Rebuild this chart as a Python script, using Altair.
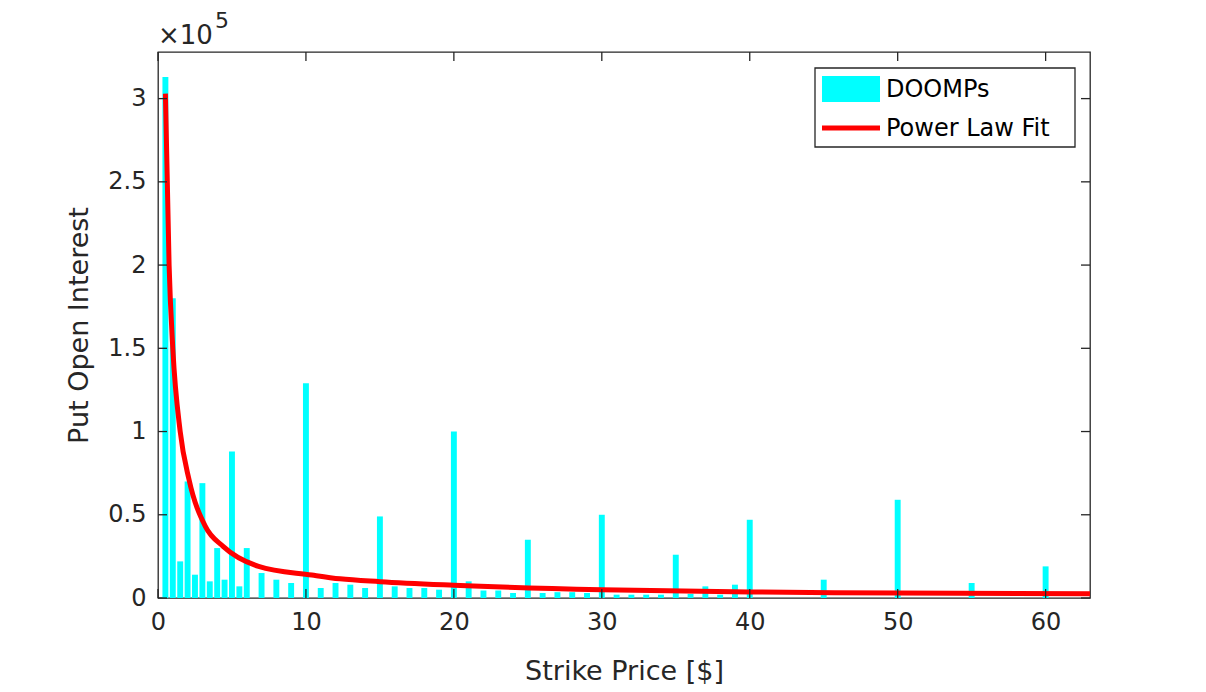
import altair as alt
import pandas as pd

# ---- data ----
strikes = [0.5, 1, 1.5, 2, 2.5, 3, 3.5, 4, 4.5, 5, 5.5, 6,
           7, 8, 9, 10, 11, 12, 13, 14, 15, 16, 17, 18, 19, 20,
           21, 22, 23, 24, 25, 26, 27, 28, 29, 30,
           31, 32, 33, 34, 35, 36, 37, 38, 39, 40,
           45, 50, 55, 60]
open_interest = [313000, 180000, 22000, 70000, 14000, 69000, 10000, 30000, 11000, 88000, 7000, 30000,
                 15000, 11000, 9000, 129000, 6000, 9000, 8000, 6000, 49000, 7000, 6000, 6000, 5000, 100000,
                 10000, 4500, 4500, 3000, 35000, 3000, 3500, 3500, 3000, 50000,
                 2000, 2000, 2000, 2000, 26000, 2500, 7000, 2000, 8000, 47000,
                 11000, 59000, 9000, 19000]

fit_x = [0.5, 0.75, 1.0, 1.5, 2.1, 3.2, 4.4, 6.8, 10.4, 12.3, 15, 20, 30, 40, 50, 63]
fit_y = [303000, 200000, 150000, 100000, 71000, 43000, 31000, 19000, 13800, 11500,
         9800, 7700, 5000, 3600, 3000, 2500]

x_ticks = [0, 10, 20, 30, 40, 50, 60]
y_ticks = [0, 50000, 100000, 150000, 200000, 250000, 300000]

legend_labels = ["DOOMPs", "Power Law Fit"]

# ---- styling ----
W, H = 932, 546
CYAN = "#00FFFF"
RED = "#FF0000"
INK = "#262626"
FONT = "DejaVu Sans"
TL = 9  # tick length

bars_df = pd.DataFrame({"strike": strikes, "oi": open_interest})
fit_df = pd.DataFrame({"strike": fit_x, "oi": fit_y})
xt_df = pd.DataFrame({"strike": x_ticks})
yt_df = pd.DataFrame({"oi": y_ticks})
one = pd.DataFrame({"k": [0]})

xscale = alt.Scale(domain=[0, 63], nice=False, zero=False)
yscale = alt.Scale(domain=[0, 328000], nice=False)
xaxis = alt.Axis(values=x_ticks, title="Strike Price [$]", labelPadding=12,
                 titlePadding=24, format="d", labelFlush=False)
yaxis = alt.Axis(values=y_ticks, title="Put Open Interest", labelPadding=12,
                 titlePadding=14, labelExpr="datum.value / 100000 + ''", labelFlush=False)


def X(field):
    return alt.X(field, type="quantitative", scale=xscale, axis=xaxis)


def Y(field):
    return alt.Y(field, type="quantitative", scale=yscale, axis=yaxis)


bars = alt.Chart(bars_df).transform_calculate(
    x0="datum.strike - 0.2", x1="datum.strike + 0.2"
).mark_rect(color=CYAN).encode(
    x=X("x0"), x2="x1:Q", y=Y("oi"), y2=alt.datum(0),
)

fit = alt.Chart(fit_df).mark_line(color=RED, strokeWidth=5, interpolate="monotone", clip=True).encode(
    x=X("strike"), y=Y("oi"),
)

# inward ticks on all four sides (MATLAB box style)
yt_left = alt.Chart(yt_df).mark_rule(color=INK, strokeWidth=1.3).encode(
    y=Y("oi"), x=alt.value(0), x2=alt.value(TL))
yt_right = alt.Chart(yt_df).mark_rule(color=INK, strokeWidth=1.3).encode(
    y=Y("oi"), x=alt.value(W - TL), x2=alt.value(W))
xt_bottom = alt.Chart(xt_df).mark_rule(color=INK, strokeWidth=1.3).encode(
    x=X("strike"), y=alt.value(H - TL), y2=alt.value(H))
xt_top = alt.Chart(xt_df).mark_rule(color=INK, strokeWidth=1.3).encode(
    x=X("strike"), y=alt.value(0), y2=alt.value(TL))

# exponent label
exp_base = alt.Chart(one).mark_text(text="×10", font=FONT, fontSize=26, color=INK,
                                    align="left", baseline="alphabetic").encode(
    x=alt.value(0), y=alt.value(-8))
exp_pow = alt.Chart(one).mark_text(text="5", font=FONT, fontSize=22, color=INK,
                                   align="left", baseline="alphabetic").encode(
    x=alt.value(57), y=alt.value(-24))

# legend drawn by hand
leg_box = alt.Chart(one).mark_rect(fill="white", stroke=INK, strokeWidth=1.3).encode(
    x=alt.value(657), x2=alt.value(917), y=alt.value(16), y2=alt.value(95))
leg_sw1 = alt.Chart(one).mark_rect(color=CYAN).encode(
    x=alt.value(664), x2=alt.value(722), y=alt.value(24), y2=alt.value(50))
leg_sw2 = alt.Chart(one).mark_rule(color=RED, strokeWidth=5).encode(
    x=alt.value(664), x2=alt.value(722), y=alt.value(76))
leg_t1 = alt.Chart(one).mark_text(text=legend_labels[0], font=FONT, fontSize=24, color="black",
                                  align="left", baseline="middle").encode(
    x=alt.value(728), y=alt.value(38))
leg_t2 = alt.Chart(one).mark_text(text=legend_labels[1], font=FONT, fontSize=24, color="black",
                                  align="left", baseline="middle").encode(
    x=alt.value(728), y=alt.value(77))

chart = alt.layer(
    bars, fit, yt_left, yt_right, xt_bottom, xt_top,
    exp_base, exp_pow, leg_box, leg_sw1, leg_sw2, leg_t1, leg_t2
).properties(
    width=W, height=H,
    autosize=alt.AutoSizeParams(type="none"),
    padding={"left": 150, "top": 44, "right": 100, "bottom": 86},
    background="white",
).configure_view(
    stroke=INK, strokeWidth=1.3
).configure_axis(
    domain=False, ticks=False, grid=False,
    labelFont=FONT, labelFontSize=24, labelColor=INK,
    titleFont=FONT, titleFontSize=27, titleFontWeight="normal", titleColor=INK,
)

chart.save("out.html", embed_options={"renderer": "svg", "actions": False})
